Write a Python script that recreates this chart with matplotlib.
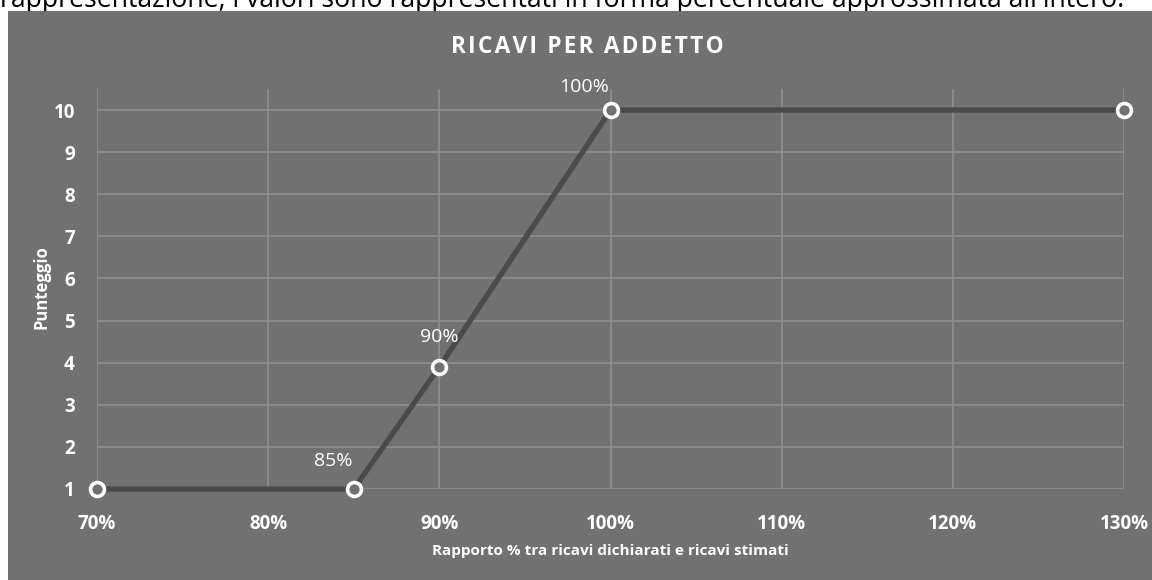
import matplotlib
matplotlib.use("Agg")
import matplotlib.pyplot as plt
from matplotlib.patches import Rectangle

# Data
x_ratio = [70, 85, 90, 100, 130]
punteggio = [1, 1, 3.9, 10, 10]
point_labels = ["", "85%", "90%", "100%", ""]
x_ticks = [70, 80, 90, 100, 110, 120, 130]
x_tick_labels = ["70%", "80%", "90%", "100%", "110%", "120%", "130%"]
y_ticks = [1, 2, 3, 4, 5, 6, 7, 8, 9, 10]

title = "RICAVI PER ADDETTO"
x_label = "Rapporto % tra ricavi dichiarati e ricavi stimati"
y_label = "Punteggio"
top_text = "rappresentazione, i valori sono rappresentati in forma percentuale approssimata all'intero."

BG = "#717171"
GRID = "#8f8f8f"
LINE = "#4a4a4a"
FONT = "Open Sans"

W, H = 1152, 580
fig = plt.figure(figsize=(W / 100, H / 100), dpi=100)
fig.patch.set_facecolor("white")

# Caption text above the panel (cropped in the reference)
fig.text(0.0, 1 - 7 / H, top_text, ha="left", va="baseline",
         fontsize=19.2, color="black", family=FONT, zorder=0)

# Grey panel
panel = Rectangle((8 / W, 0), 1 - 8 / W, 1 - 11 / H, transform=fig.transFigure,
                  facecolor=BG, edgecolor="none", zorder=1)
fig.patches.append(panel)

ax = fig.add_axes([97 / W, 1 - 489 / H, (1124 - 97) / W, (489 - 89) / H])
ax.set_zorder(2)
ax.set_facecolor(BG)
ax.patch.set_alpha(0)

ax.set_xlim(70, 130)
ax.set_ylim(1, 10.5)
ax.set_xticks(x_ticks)
ax.set_xticklabels(x_tick_labels)
ax.set_yticks(y_ticks)
ax.grid(True, color=GRID, linewidth=1.2)
ax.set_axisbelow(True)
for s in ax.spines.values():
    s.set_visible(False)
ax.tick_params(length=0, colors="white", labelsize=13.5)
ax.tick_params(axis="x", pad=18)
ax.tick_params(axis="y", pad=16)
for lab in ax.get_xticklabels() + ax.get_yticklabels():
    lab.set_fontweight("bold")
    lab.set_family(FONT)

ax.plot(x_ratio, punteggio, color=LINE, linewidth=3.8, zorder=3, clip_on=False,
        solid_capstyle="round")
ax.plot(x_ratio, punteggio, linestyle="none", marker="o", markersize=10,
        markerfacecolor=BG, markeredgecolor="white", markeredgewidth=2.6,
        zorder=4, clip_on=False)

offsets = {"85%": (-15, 14), "90%": (0, 15), "100%": (-19, 10)}
for xv, yv, lab in zip(x_ratio, punteggio, point_labels):
    if not lab:
        continue
    dx, dy = offsets[lab]
    ax.annotate(lab, (xv, yv), xytext=(dx, dy), textcoords="offset points",
                ha="center", va="bottom", color="white", fontsize=14,
                family=FONT)

ax.set_xlabel(x_label, color="white", fontsize=11, fontweight="bold",
              family=FONT)
ax.xaxis.set_label_coords(0.5, (489 - 551) / 400, transform=ax.transAxes)
ax.xaxis.label.set_va("center")
ax.set_ylabel(y_label, color="white", fontsize=12, fontweight="bold",
              family=FONT)
ax.yaxis.set_label_coords((42 - 97) / 1027, (489 - 287) / 400, transform=ax.transAxes)
ax.yaxis.label.set_va("center")

fig.text(587 / W, 1 - 47 / H, "\u200a".join(title),
         ha="center", va="center", color="white", fontsize=16.3,
         fontweight="bold", family=FONT, zorder=3)

fig.savefig("out.png", dpi=100)
